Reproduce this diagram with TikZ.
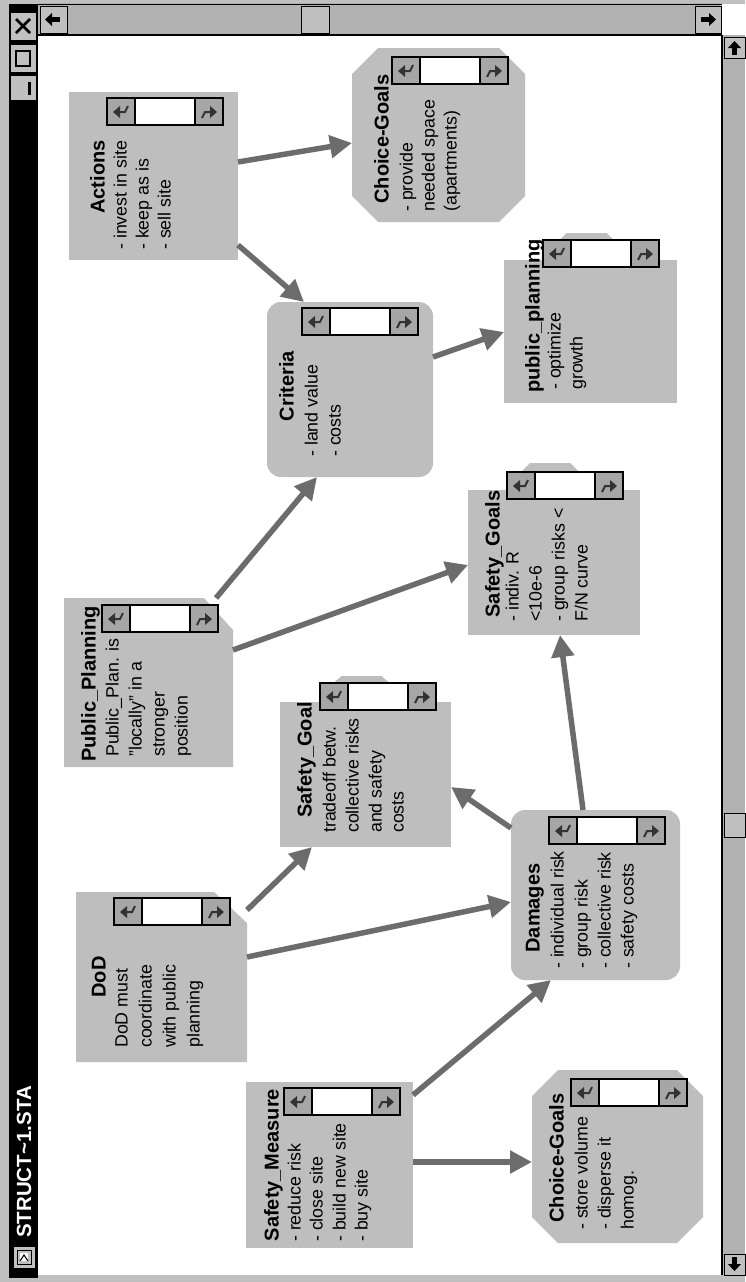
\documentclass[tikz,border=0pt]{standalone}
\usepackage{fontspec}
\setmainfont{Liberation Sans}
\usetikzlibrary{arrows.meta,calc}
\definecolor{boxgray}{HTML}{BEBEBE}
\definecolor{arrgray}{HTML}{6C6C6C}
\definecolor{framegray}{HTML}{C0C0C0}
\definecolor{trough}{HTML}{B2B2B2}
\definecolor{btngray}{HTML}{A6A6A6}
\newcommand\spinw[2]{%
  \fill[white] (#1,#2) rectangle ++(116,27);
  \fill[btngray] (#1,#2) rectangle ++(28,27);
  \fill[btngray] ({#1+88},#2) rectangle ++(28,27);
  \fill[black!80] ({#1+6},{#2+14}) -- ({#1+13},{#2+8}) -- ({#1+13},{#2+20}) -- cycle;
  \draw[black!80,line width=2pt] ({#1+12},{#2+14}) -- ({#1+18},{#2+14}) -- ({#1+21},{#2+8});
  \fill[black!80] ({#1+110},{#2+14}) -- ({#1+103},{#2+8}) -- ({#1+103},{#2+20}) -- cycle;
  \draw[black!80,line width=2pt] ({#1+104},{#2+14}) -- ({#1+98},{#2+14}) -- ({#1+95},{#2+20});
  \draw[black,line width=1.5pt] (#1,#2) rectangle ++(116,27);
  \draw[black,line width=1.5pt] ({#1+28},#2) -- ++(0,27);
  \draw[black,line width=1.5pt] ({#1+88},#2) -- ++(0,27);
}
\begin{document}
\begin{tikzpicture}[x=1pt,y=-1pt,
  box/.style={fill=boxgray,draw=none,inner sep=0pt,outer sep=0pt},
  ghost/.style={draw=none,fill=none,inner sep=0pt,outer sep=0pt},
  ttl/.style={rotate=90,inner sep=0pt,font=\fontsize{20}{23}\selectfont\bfseries,anchor=mid},
  txt/.style={rotate=90,inner sep=0pt,font=\fontsize{17.8}{22}\selectfont,anchor=mid west},
  arr/.style={draw=arrgray,line width=5.5pt,-{Triangle[length=22pt,width=22pt]}},
  btn/.style={fill=framegray,draw=black,line width=0.8pt},
]
\useasboundingbox (0,0) rectangle (745,1282);
% window frame
\fill[framegray] (0,0) rectangle (745,1282);
\fill[white] (38,35) rectangle (722,1275);
% title bar
\fill[black] (9,4) rectangle (38,1278);
\draw[btn] (10,12) rectangle (36,40);
\draw[black,line width=2.5pt] (16,19) -- (30,33) (16,33) -- (30,19);
\draw[btn] (10,44) rectangle (36,72);
\draw[black,line width=2pt] (16,51) rectangle (30,66);
\draw[btn] (10,75) rectangle (36,100);
\draw[black,line width=3pt] (29,82) -- (29,95);
\node[rotate=90,text=white,inner sep=0pt,font=\fontsize{20.5}{22}\selectfont\bfseries] (wtitle) at (24,1162) {STRUCT\textasciitilde1.STA};
\draw[btn] (13,1246) rectangle (35,1268);
\draw[black,line width=1pt] (17,1250) rectangle (31,1264);
\fill[white] (20,1253) rectangle (28,1261);
\draw[black,line width=1pt] (20,1261) -- (24,1255) -- (28,1261);
% horizontal scrollbar (top)
\fill[trough] (38,3) rectangle (722,35);
\draw[black,line width=1.2pt] (38,35) -- (722,35);
\draw[black,line width=1pt] (38,4) -- (722,4);
\draw[btn] (40,6) rectangle (67,33);
\fill[black] (45,19.5) -- (52,13) -- (52,26) -- cycle;
\fill[black] (52,17) rectangle (60,22);
\draw[btn] (301,6) rectangle (329,33);
\draw[btn] (695,6) rectangle (721,33);
\fill[black] (716,19.5) -- (709,13) -- (709,26) -- cycle;
\fill[black] (701,17) rectangle (709,22);
\fill[white] (722,4) rectangle (745,35);
% vertical scrollbar (right)
\fill[trough] (722,35) rectangle (745,1275);
\draw[black,line width=1.2pt] (722,35) -- (722,1275);
\draw[btn] (724,37) rectangle (745,58);
\fill[black] (734.5,41) -- (728,48) -- (741,48) -- cycle;
\fill[black] (732,48) rectangle (737,55);
\draw[btn] (724,813) rectangle (745,837);
\draw[btn] (724,1254) rectangle (745,1275);
\fill[black] (734.5,1271) -- (728,1264) -- (741,1264) -- cycle;
\fill[black] (732,1257) rectangle (737,1264);

% ---------- boxes ----------
\node[box,minimum width=169pt,minimum height=168pt] (act) at (153.5,176) {};
\node[ghost,minimum width=173pt,minimum height=174pt] (cgt) at (438.5,135) {};
\fill[boxgray] ($(cgt.north west)+(26,0)$) -- ($(cgt.north east)+(-26,0)$) -- ($(cgt.north east)+(0,26)$) -- ($(cgt.south east)+(0,-26)$) -- ($(cgt.south east)+(-26,0)$) -- ($(cgt.south west)+(26,0)$) -- ($(cgt.south west)+(0,-26)$) -- ($(cgt.north west)+(0,26)$) -- cycle;
\node[box,rounded corners=14pt,minimum width=166pt,minimum height=175pt] (cri) at (350,389.5) {};
\node[box,minimum width=173pt,minimum height=143pt] (ppl) at (590.5,331.5) {};
\fill[boxgray] ($(ppl.north)+(-32,1)$) -- ($(ppl.north)+(-32,-19)$) -- ($(ppl.north)+(-24,-27)$) -- ($(ppl.north)+(16,-27)$) -- ($(ppl.north)+(24,-19)$) -- ($(ppl.north)+(24,1)$) -- cycle;
\node[ghost,minimum width=169pt,minimum height=169pt] (pub) at (148.5,682.5) {};
\fill[boxgray] (pub.north west) -- ($(pub.north east)+(-29,0)$) -- ($(pub.north east)+(0,32)$) -- (pub.south east) -- (pub.south west) -- cycle;
\node[box,minimum width=172pt,minimum height=145pt] (sgs) at (554,562.5) {};
\fill[boxgray] ($(sgs.north)+(-32,1)$) -- ($(sgs.north)+(-32,-19)$) -- ($(sgs.north)+(-24,-27)$) -- ($(sgs.north)+(16,-27)$) -- ($(sgs.north)+(24,-19)$) -- ($(sgs.north)+(24,1)$) -- cycle;
\node[box,minimum width=171pt,minimum height=145pt] (sg) at (365.5,774.5) {};
\fill[boxgray] ($(sg.north)+(-32,1)$) -- ($(sg.north)+(-32,-19)$) -- ($(sg.north)+(-24,-26)$) -- ($(sg.north)+(16,-26)$) -- ($(sg.north)+(24,-19)$) -- ($(sg.north)+(24,1)$) -- cycle;
\node[ghost,minimum width=171pt,minimum height=170pt] (dod) at (161.5,977) {};
\fill[boxgray] (dod.north west) -- ($(dod.north east)+(-33,0)$) -- ($(dod.north east)+(0,31)$) -- (dod.south east) -- (dod.south west) -- cycle;
\node[box,rounded corners=14pt,minimum width=169pt,minimum height=170pt] (dam) at (595.5,895) {};
\node[box,minimum width=167pt,minimum height=166pt] (sm) at (329.5,1165) {};
\node[ghost,minimum width=171pt,minimum height=173pt] (cgb) at (617.5,1156.5) {};
\fill[boxgray] ($(cgb.north west)+(26,0)$) -- ($(cgb.north east)+(-26,0)$) -- ($(cgb.north east)+(0,26)$) -- ($(cgb.south east)+(0,-26)$) -- ($(cgb.south east)+(-26,0)$) -- ($(cgb.south west)+(26,0)$) -- ($(cgb.south west)+(0,-26)$) -- ($(cgb.north west)+(0,26)$) -- cycle;

% ---------- widgets ----------
\spinw{107}{98}
\spinw{392}{57}
\spinw{302}{308}
\spinw{543}{240}
\spinw{102}{605}
\spinw{507}{472}
\spinw{320}{683}
\spinw{114}{898}
\spinw{549}{817}
\spinw{284}{1088}
\spinw{571}{1079}

% ---------- texts ----------
\node[ttl] (act-t) at (102,177) {Actions};
\node[txt] (act-1) at (124,250) {- invest in site};
\node[txt] (act-2) at (146,250) {- keep as is};
\node[txt] (act-3) at (168,250) {- sell site};

\node[ttl] (cgt-t) at (386,139) {Choice-Goals};
\node[txt] (cgt-1) at (410,212) {- provide};
\node[txt] (cgt-2) at (432,212) {needed space};
\node[txt] (cgt-3) at (454,212) {(apartments)};

\node[ttl] (cri-t) at (291,386) {Criteria};
\node[txt] (cri-1) at (315,457) {- land value};
\node[txt] (cri-2) at (338,457) {- costs};

\node[ttl] (ppl-t) at (537,316) {public\_planning};
\node[txt] (ppl-1) at (558,390) {- optimize};
\node[txt] (ppl-2) at (580,390) {growth};

\node[ttl] (pub-t) at (93,684) {Public\_Planning};
\node[txt] (pub-1) at (116,757) {Public\_Plan. is};
\node[txt] (pub-2) at (139,757) {"locally" in a};
\node[txt] (pub-3) at (162,757) {stronger};
\node[txt] (pub-4) at (185,757) {position};

\node[ttl] (sgs-t) at (497,554) {Safety\_Goals};
\node[txt] (sgs-1) at (516,622) {- indiv. R};
\node[txt] (sgs-2) at (539,622) {<10e-6};
\node[txt] (sgs-3) at (562,622) {- group risks <};
\node[txt] (sgs-4) at (585,622) {F/N curve};

\node[ttl] (sg-t) at (309,760) {Safety\_Goal};
\node[txt] (sg-1) at (333,833) {tradeoff betw.};
\node[txt] (sg-2) at (356,833) {collective risks};
\node[txt] (sg-3) at (379,833) {and safety};
\node[txt] (sg-4) at (401,833) {costs};

\node[ttl] (dod-t) at (103,977) {DoD};
\node[txt] (dod-1) at (125,1048) {DoD must};
\node[txt] (dod-2) at (149,1048) {coordinate};
\node[txt] (dod-3) at (173,1048) {with public};
\node[txt] (dod-4) at (197,1048) {planning};

\node[ttl] (dam-t) at (537,908) {Damages};
\node[txt] (dam-1) at (561,969) {- individual risk};
\node[txt] (dam-2) at (585,969) {- group risk};
\node[txt] (dam-3) at (608,969) {- collective risk};
\node[txt] (dam-4) at (631,969) {- safety costs};

\node[ttl] (sm-t) at (276,1165) {Safety\_Measure};
\node[txt] (sm-1) at (298,1242) {- reduce risk};
\node[txt] (sm-2) at (320,1242) {- close site};
\node[txt] (sm-3) at (343,1242) {- build new site};
\node[txt] (sm-4) at (365,1242) {- buy site};

\node[ttl] (cgb-t) at (561,1158) {Choice-Goals};
\node[txt] (cgb-1) at (585,1230) {- store volume};
\node[txt] (cgb-2) at (608,1230) {- disperse it};
\node[txt] (cgb-3) at (631,1230) {homog.};

% ---------- connectors ----------
\draw[arr] (act.east |- 0,162) -- (cgt.west |- 0,143);
\draw[arr] (act.east |- 0,245) -- (cri.north -| 304,0);
\draw[arr] (cri.east |- 0,357) -- (ppl.west |- 0,332);
\draw[arr] (pub.north -| 216,0) -- (cri.south -| 317,0);
\draw[arr] (pub.east |- 0,650) -- (sgs.west |- 0,565);
\draw[arr] (dam.west |- 0,828) -- (sg.east |- 0,787);
\draw[arr] (dam.north -| 583,0) -- (sgs.south -| 560,0);
\draw[arr] (dod.east |- 0,910) -- (sg.south -| 312,0);
\draw[arr] (dod.east |- 0,957) -- (dam.west |- 0,902);
\draw[arr] (sm.east |- 0,1095) -- (dam.south -| 551,0);
\draw[arr] (sm.east |- 0,1162) -- (cgb.west |- 0,1162);
\end{tikzpicture}
\end{document}
